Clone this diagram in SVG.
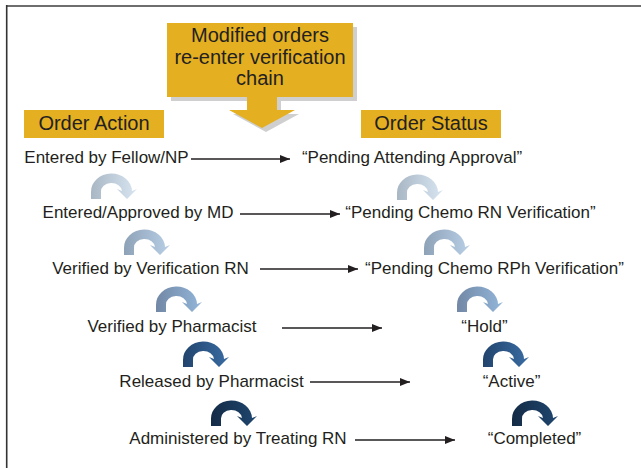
<svg xmlns="http://www.w3.org/2000/svg" xmlns:xlink="http://www.w3.org/1999/xlink" width="641" height="468" viewBox="0 0 641 468">
  <style>
    .lbl { font-family: "Liberation Sans", Arial, sans-serif; font-size: 17px; fill: #231f20; text-anchor: middle; }
    .hdr { font-family: "Liberation Sans", Arial, sans-serif; font-size: 20px; fill: #231f20; text-anchor: middle; }
    .tag { fill: #e4af20; }
    .conn { stroke: #231f20; stroke-width: 1.3; fill: none; marker-end: url(#tip); }
  </style>
  <defs>
    <marker id="tip" viewBox="0 0 10 8" refX="10" refY="4" markerWidth="10" markerHeight="8" markerUnits="userSpaceOnUse" orient="auto">
      <path d="M0,0 L10,4 L0,8 Z" fill="#231f20"/>
    </marker>
    <!-- curved step arrow: left foot at (0,0), arrowhead tip at (36,0) -->
    <path id="hop" d="M0,0 L0,-7 A20.5,18 0 0 1 41,-8 L46,-10 L36,0 L26,-10 L31,-8 A10.5,8.5 0 0 0 10,-7 L10,0 Z"/>
    <linearGradient id="s1" x1="0" y1="0" x2="1" y2="0"><stop offset="0" stop-color="#a9b7c5"/><stop offset="1" stop-color="#d8e5f1"/></linearGradient>
    <linearGradient id="s2" x1="0" y1="0" x2="1" y2="0"><stop offset="0" stop-color="#8ea2b7"/><stop offset="1" stop-color="#b8cfe6"/></linearGradient>
    <linearGradient id="s3" x1="0" y1="0" x2="1" y2="0"><stop offset="0" stop-color="#7288a5"/><stop offset="1" stop-color="#93b6da"/></linearGradient>
    <linearGradient id="s4" x1="0" y1="0" x2="1" y2="0"><stop offset="0" stop-color="#21446d"/><stop offset="1" stop-color="#3a6ca3"/></linearGradient>
    <linearGradient id="s5" x1="0" y1="0" x2="1" y2="0"><stop offset="0" stop-color="#142b46"/><stop offset="1" stop-color="#1f466f"/></linearGradient>
  </defs>

  <!-- frame -->
  <line x1="6" y1="6" x2="641" y2="6" stroke="#6e6e6e" stroke-width="2.2"/>
  <line x1="6.7" y1="5" x2="6.7" y2="468" stroke="#333" stroke-width="1.6"/>

  <!-- callout -->
  <g id="callout">
    <path transform="translate(4,4)" fill="#cfcfcf" d="M167,23 H353 V97 H277 V110 H295 L262,128 L229,110 H247 V97 H167 Z"/>
    <path class="tag" d="M167,23 H353 V97 H277 V110 H295 L262,128 L229,110 H247 V97 H167 Z"/>
    <text class="hdr" x="260" y="42">Modified orders</text>
    <text class="hdr" x="260" y="64">re-enter verification</text>
    <text class="hdr" x="260" y="85">chain</text>
  </g>

  <g id="head-action">
    <rect class="tag" x="24" y="110" width="140" height="28"/>
    <text class="hdr" x="94" y="130">Order Action</text>
  </g>
  <g id="head-status">
    <rect class="tag" x="361" y="110" width="140" height="28"/>
    <text class="hdr" x="431" y="130">Order Status</text>
  </g>

  <!-- order actions -->
  <g id="a1"><text class="lbl" x="106.5" y="163">Entered by Fellow/NP</text></g>
  <g id="a2"><text class="lbl" x="138" y="218">Entered/Approved by MD</text></g>
  <g id="a3"><text class="lbl" x="150.5" y="274">Verified by Verification RN</text></g>
  <g id="a4"><text class="lbl" x="172" y="332">Verified by Pharmacist</text></g>
  <g id="a5"><text class="lbl" x="211.5" y="387">Released by Pharmacist</text></g>
  <g id="a6"><text class="lbl" x="238" y="444">Administered by Treating RN</text></g>

  <!-- order statuses -->
  <g id="s-pending-attending"><text class="lbl" x="412" y="163">“Pending Attending Approval”</text></g>
  <g id="s-pending-rn"><text class="lbl" x="470.5" y="218">“Pending Chemo RN Verification”</text></g>
  <g id="s-pending-rph"><text class="lbl" x="494.5" y="274">“Pending Chemo RPh Verification”</text></g>
  <g id="s-hold"><text class="lbl" x="484.5" y="332">“Hold”</text></g>
  <g id="s-active"><text class="lbl" x="511.5" y="387">“Active”</text></g>
  <g id="s-completed"><text class="lbl" x="534.5" y="444">“Completed”</text></g>

  <!-- connectors -->
  <g id="connectors">
    <line class="conn" x1="191" y1="159" x2="290" y2="159"/>
    <line class="conn" x1="240" y1="214" x2="340" y2="214"/>
    <line class="conn" x1="260" y1="269" x2="358" y2="269"/>
    <line class="conn" x1="282" y1="328" x2="382" y2="328"/>
    <line class="conn" x1="310" y1="382" x2="410" y2="382"/>
    <line class="conn" x1="355" y1="440" x2="455" y2="440"/>

    <!-- step arrows, action column -->
    <use xlink:href="#hop" href="#hop" x="91" y="199" fill="url(#s1)"/>
    <use xlink:href="#hop" href="#hop" x="124" y="255" fill="url(#s2)"/>
    <use xlink:href="#hop" href="#hop" x="156" y="312" fill="url(#s3)"/>
    <use xlink:href="#hop" href="#hop" x="183" y="367" fill="url(#s4)"/>
    <use xlink:href="#hop" href="#hop" x="211" y="426" fill="url(#s5)"/>

    <!-- step arrows, status column -->
    <use xlink:href="#hop" href="#hop" x="397" y="200" fill="url(#s1)"/>
    <use xlink:href="#hop" href="#hop" x="424" y="255" fill="url(#s2)"/>
    <use xlink:href="#hop" href="#hop" x="457" y="312" fill="url(#s3)"/>
    <use xlink:href="#hop" href="#hop" x="483" y="367" fill="url(#s4)"/>
    <use xlink:href="#hop" href="#hop" x="512" y="426" fill="url(#s5)"/>
  </g>
</svg>
